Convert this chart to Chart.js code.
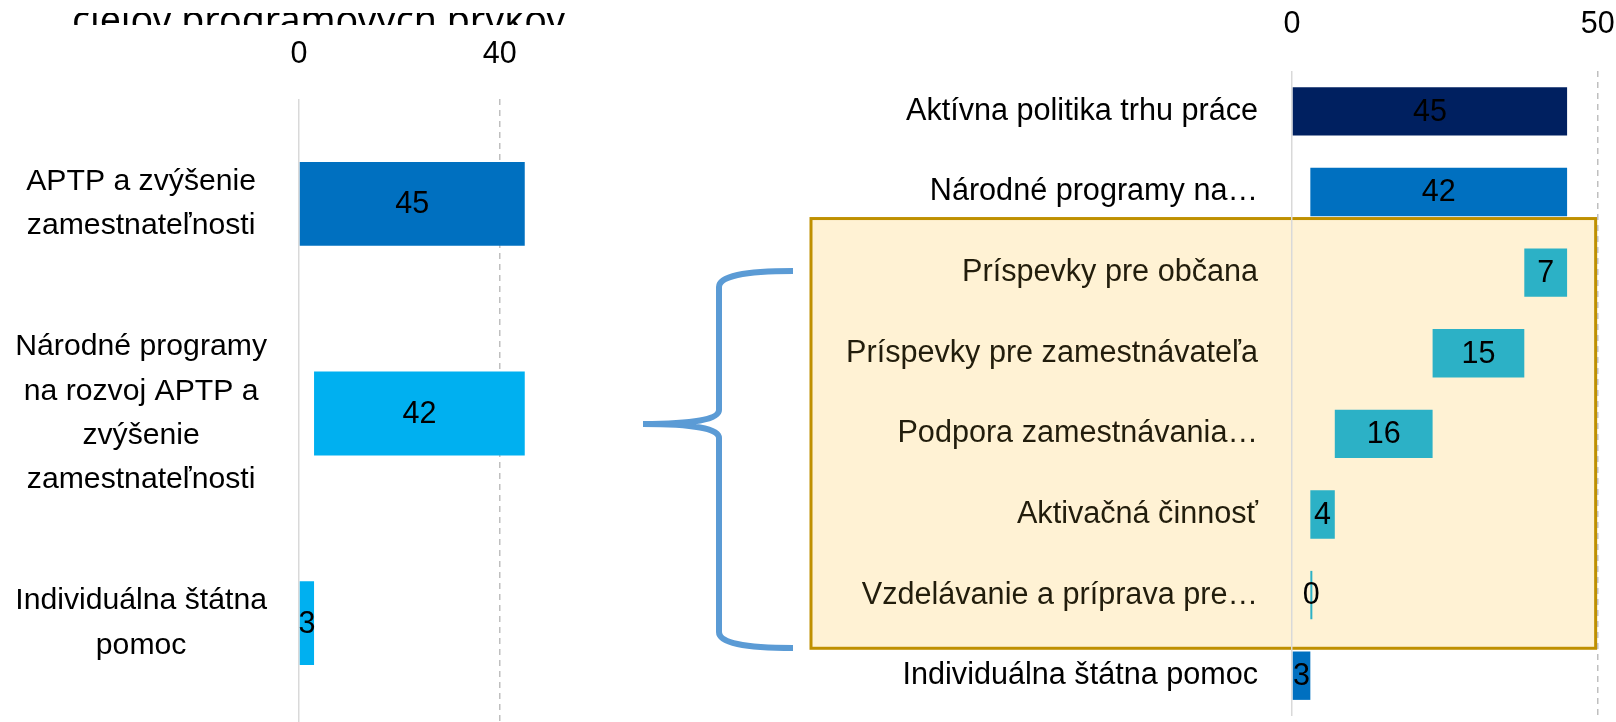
<!DOCTYPE html>
<html lang="sk">
<head>
  <meta charset="UTF-8">
  <title>Štruktúra programových prvkov</title>
  <script src="https://cdn.jsdelivr.net/npm/chart.js"></script>
  <style>
    body { margin: 0; width: 1616px; height: 722px; overflow: hidden; background: #fff; position: relative; }
    canvas { position: absolute; top: 0; }
    #leftChart { left: 0; }
    #rightChart { left: 600px; }
    .cut-title { position: absolute; left: 72px; top: 13px; height: 12px; overflow: hidden; z-index: 2; }
    .cut-title span { position: relative; top: -13px; display: block; font: 37.5px/37.5px "Noto Sans", sans-serif; color: #000; white-space: nowrap; }
  </style>
</head>
<body>
  <div class="cut-title"><span>cieľov programových prvkov</span></div>
  <canvas id="leftChart" width="600" height="728"></canvas>
  <canvas id="rightChart" width="1016" height="716"></canvas>

  <script>
    // left chart
    const leftLabels = [
      ["APTP a zvýšenie", "zamestnateľnosti"],
      ["Národné programy", "na rozvoj APTP a", "zvýšenie", "zamestnateľnosti"],
      ["Individuálna štátna", "pomoc"]
    ];
    const leftValues = [45, 42, 3];
    const leftStarts = [0, 3, 0];
    const leftColors = ["#0070C0", "#00B0F0", "#00B0F0"];
    const leftTicks = [0, 40];

    // right chart
    const rightLabels = [
      "Aktívna politika trhu práce",
      "Národné programy na…",
      "Príspevky pre občana",
      "Príspevky pre zamestnávateľa",
      "Podpora zamestnávania…",
      "Aktivačná činnosť",
      "Vzdelávanie a príprava pre…",
      "Individuálna štátna pomoc"
    ];
    const rightValues = [45, 42, 7, 15, 16, 4, 0, 3];
    const rightStarts = [0, 3, 38, 23, 7, 3, 3, 0];
    const rightColors = ["#002060", "#0070C0", "#2CB1C6", "#2CB1C6", "#2CB1C6", "#2CB1C6", "#2CB1C6", "#0070C0"];
    const rightTicks = [0, 50];

    Chart.defaults.font.family = '"Liberation Sans", Arial, sans-serif';
    Chart.defaults.color = "#000";

    const valueLabels = {
      id: "valueLabels",
      afterDatasetsDraw(chart, args, opts) {
        const ctx = chart.ctx;
        const meta = chart.getDatasetMeta(0);
        ctx.save();
        ctx.font = opts.size + 'px "Liberation Sans", Arial, sans-serif';
        ctx.fillStyle = "#000";
        ctx.textAlign = "center";
        ctx.textBaseline = "middle";
        meta.data.forEach((bar, i) => {
          ctx.fillText(String(opts.values[i]), (bar.x + bar.base) / 2, bar.y + 1);
        });
        ctx.restore();
      }
    };

    // yellow box + curly brace on the right chart
    const groupBox = {
      id: "groupBox",
      beforeDraw(chart) {
        const { ctx, scales: { x, y } } = chart;
        const top = y.getPixelForValue(1.33);
        const bottom = y.getPixelForValue(6.66);
        const left = chart.chartArea.left - 481;
        const right = x.getPixelForValue(50) - 2;
        ctx.save();
        ctx.fillStyle = "#FFF2D4";
        ctx.fillRect(left, top, right - left, bottom - top);
        ctx.strokeStyle = "#BF9000";
        ctx.lineWidth = 3;
        ctx.strokeRect(left, top, right - left, bottom - top);

        ctx.strokeStyle = "#5B9BD5";
        ctx.lineWidth = 6;
        ctx.beginPath();
        ctx.moveTo(193, 271);
        ctx.quadraticCurveTo(119, 271, 119, 287);
        ctx.lineTo(119, 410);
        ctx.quadraticCurveTo(119, 424, 43, 424);
        ctx.quadraticCurveTo(119, 424, 119, 438);
        ctx.lineTo(119, 632);
        ctx.quadraticCurveTo(119, 648, 193, 648);
        ctx.stroke();
        ctx.restore();
      }
    };

    function noPad(s) {
      s.paddingTop = 0; s.paddingBottom = 0; s.paddingLeft = 0; s.paddingRight = 0;
    }

    function xAxis(max, ticks, pad, height) {
      return {
        position: "top",
        min: 0,
        max: max,
        afterBuildTicks: s => { s.ticks = ticks.map(v => ({ value: v })); },
        afterFit: s => { s.height = height; noPad(s); },
        ticks: { padding: pad, font: { size: 30.5 }, color: "#000" },
        grid: {
          drawTicks: false,
          lineWidth: 1.5,
          color: c => (c.tick && c.tick.value === 0) ? "#D9D9D9" : "#BFBFBF"
        },
        border: {
          display: false,
          dash: c => (c.tick && c.tick.value === 0) ? [] : [6, 5]
        }
      };
    }

    new Chart(document.getElementById("leftChart"), {
      type: "bar",
      data: {
        labels: leftLabels,
        datasets: [{
          data: leftStarts.map((s, i) => [s, s + leftValues[i]]),
          backgroundColor: leftColors,
          borderWidth: 0,
          barPercentage: 0.4,
          categoryPercentage: 1
        }]
      },
      options: {
        indexAxis: "y",
        responsive: false,
        devicePixelRatio: 1,
        animation: false,
        layout: { padding: 0, autoPadding: false },
        plugins: {
          legend: { display: false },
          tooltip: { enabled: false },
          valueLabels: { values: leftValues, size: 30.5 }
        },
        scales: {
          x: xAxis(60, leftTicks, 26, 99),
          y: {
            afterFit: s => { s.width = 299; noPad(s); },
            ticks: { crossAlign: "center", padding: 32, font: { size: 30.2, lineHeight: 1.47 }, color: "#000" },
            grid: { display: false, drawTicks: false },
            border: { display: false }
          }
        }
      },
      plugins: [valueLabels]
    });

    new Chart(document.getElementById("rightChart"), {
      type: "bar",
      data: {
        labels: rightLabels,
        datasets: [{
          data: rightStarts.map((s, i) => [s, s + rightValues[i]]),
          backgroundColor: rightColors,
          borderWidth: 0,
          minBarLength: 2,
          barPercentage: 0.6,
          categoryPercentage: 1
        }]
      },
      options: {
        indexAxis: "y",
        responsive: false,
        devicePixelRatio: 1,
        animation: false,
        layout: { padding: 0, autoPadding: false },
        plugins: {
          legend: { display: false },
          tooltip: { enabled: false },
          valueLabels: { values: rightValues, size: 30.5 }
        },
        scales: {
          x: xAxis(53, rightTicks, 28, 71),
          y: {
            afterFit: s => { s.width = 692; noPad(s); },
            ticks: {
              crossAlign: "near",
              padding: 34,
              font: { size: 30.6 },
              color: c => (c.index >= 2 && c.index <= 6) ? "#221D0C" : "#000"
            },
            grid: { display: false, drawTicks: false },
            border: { display: false }
          }
        }
      },
      plugins: [groupBox, valueLabels]
    });
  </script>
</body>
</html>
